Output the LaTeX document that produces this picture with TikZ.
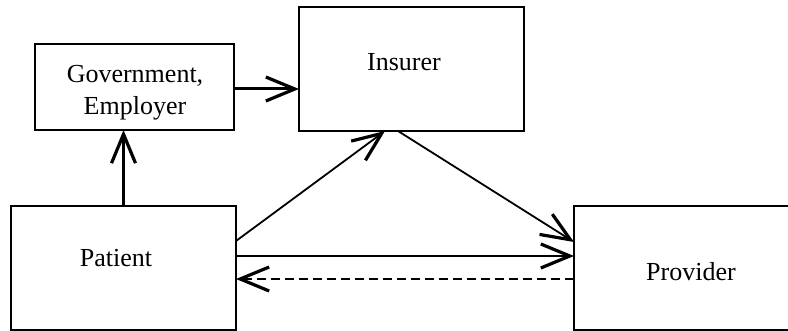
\documentclass[tikz,border=0pt]{standalone}
\usepackage{fontspec}
\setmainfont{Liberation Serif}
\usetikzlibrary{arrows.meta}
\begin{document}
\begin{tikzpicture}[x=1pt,y=-1pt,
  box/.style={draw, line width=1.9pt, inner sep=0pt, outer sep=0pt},
  txt/.style={font=\fontsize{26}{32}\selectfont, inner sep=0pt, anchor=base},
  tip/.style={-{Straight Barb[length=29pt,width=24pt,line width=3.2pt]}},
  conn/.style={tip, line width=1.8pt}]
\useasboundingbox (0,0) rectangle (788,331);
\begin{scope}
\clip (0,0) rectangle (788,331);
\node[box, minimum width=199pt, minimum height=86pt] (gov) at (134.5,87) {};
\node[box, minimum width=225pt, minimum height=124pt] (ins) at (411.5,69) {};
\node[box, minimum width=225pt, minimum height=124pt] (pat) at (123.5,268) {};
\node[box, minimum width=225pt, minimum height=124pt] (prov) at (686.5,268) {};
\end{scope}
\node[txt] (govA) at (135,83) {Government,};
\node[txt] (govB) at (135,115) {Employer};
\node[txt] (insT) at (404,71) {Insurer};
\node[txt] (patT) at (116,267) {Patient};
\node[txt] (provT) at (691,281) {Provider};
\draw[tip, line width=3pt] ([yshift=-2pt]gov.east) -- ([yshift=-2pt]gov.east -| ins.west);
\draw[tip, line width=2.3pt] (pat.north) -- (pat.north |- gov.south);
\draw[conn] ([yshift=27pt]pat.east) -- ([xshift=-26.5pt]ins.south);
\draw[conn] ([xshift=-13.5pt]ins.south) -- ([yshift=26pt]prov.west);
\draw[conn, line width=2pt] ([yshift=12pt]pat.east) -- ([yshift=12pt]prov.west);
\draw[conn, line width=2pt, dash pattern=on 9pt off 5pt] ([yshift=-11pt]prov.west) -- ([yshift=-11pt]pat.east);
\end{tikzpicture}
\end{document}
